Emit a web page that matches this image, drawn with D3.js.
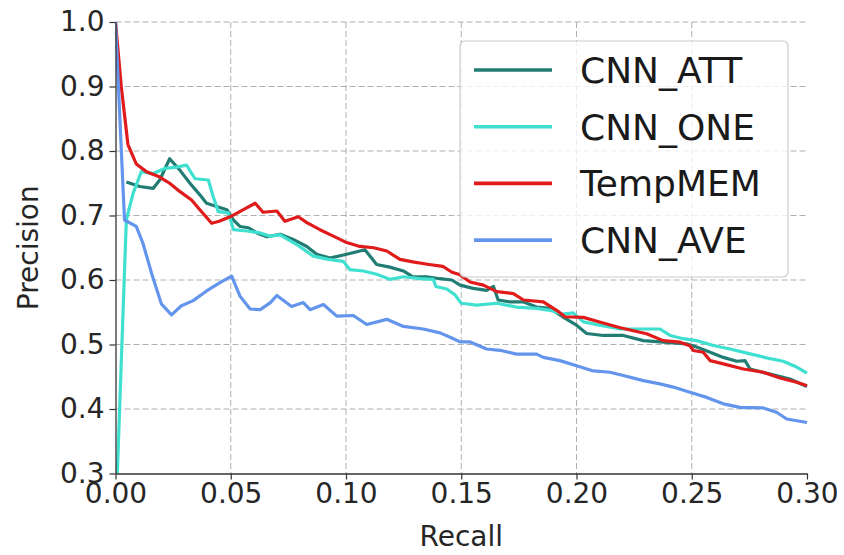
<!DOCTYPE html>
<html>
<head>
<meta charset="utf-8">
<script src="https://cdn.jsdelivr.net/npm/d3@7"></script>
<style>
  body { margin: 0; background: #fff; }
  svg { font-family: "DejaVu Sans", sans-serif; }
</style>
</head>
<body>
<svg id="chart" width="844" height="555"></svg>
<script>
// series names, colours in legend order
const seriesNames = ["CNN_ATT", "CNN_ONE", "TempMEM", "CNN_AVE"];
const seriesColors = ["#217d73", "#40e0d0", "#e01b1b", "#6495ed"];

const xTicks = [0, 0.05, 0.10, 0.15, 0.20, 0.25, 0.30];
const yTicks = [0.3, 0.4, 0.5, 0.6, 0.7, 0.8, 0.9, 1.0];

// [recall, precision]
const cnnAtt = [
  [0.0047, 0.752], [0.0105, 0.745], [0.0163, 0.742], [0.0192, 0.755], [0.0235, 0.788],
  [0.028, 0.770], [0.0323, 0.750], [0.0366, 0.732], [0.0395, 0.719], [0.0439, 0.714],
  [0.0483, 0.709], [0.0512, 0.693], [0.054, 0.683], [0.0577, 0.681], [0.0613, 0.673],
  [0.0657, 0.667], [0.0714, 0.671], [0.0771, 0.663], [0.083, 0.652], [0.0873, 0.640],
  [0.093, 0.634], [0.1003, 0.640], [0.1082, 0.647], [0.1133, 0.624], [0.119, 0.620],
  [0.1249, 0.614], [0.129, 0.605], [0.135, 0.605], [0.1408, 0.602], [0.1459, 0.600],
  [0.1495, 0.592], [0.1552, 0.587], [0.161, 0.584], [0.164, 0.590], [0.166, 0.569],
  [0.1711, 0.566], [0.177, 0.566], [0.1827, 0.558], [0.1885, 0.556], [0.194, 0.543],
  [0.200, 0.530], [0.2044, 0.517], [0.2116, 0.514], [0.2203, 0.514], [0.229, 0.506],
  [0.2376, 0.5036], [0.2478, 0.501], [0.2521, 0.496], [0.258, 0.488], [0.2637, 0.480],
  [0.2695, 0.474], [0.2731, 0.475], [0.2753, 0.462], [0.284, 0.454], [0.2926, 0.4466],
  [0.300, 0.435]
];
const cnnOne = [
  [0.0008, 0.300], [0.0047, 0.693], [0.0076, 0.734], [0.0112, 0.768], [0.0163, 0.765],
  [0.0214, 0.773], [0.0265, 0.775], [0.0308, 0.778], [0.0345, 0.757], [0.0403, 0.755],
  [0.0424, 0.729], [0.0446, 0.706], [0.049, 0.704], [0.0512, 0.678], [0.057, 0.676],
  [0.0628, 0.673], [0.067, 0.668], [0.0714, 0.670], [0.0786, 0.655], [0.0858, 0.637],
  [0.0923, 0.632], [0.0988, 0.629], [0.1017, 0.616], [0.1075, 0.614], [0.1133, 0.609],
  [0.119, 0.601], [0.1249, 0.605], [0.132, 0.602], [0.1379, 0.601], [0.139, 0.590],
  [0.1437, 0.586], [0.1473, 0.577], [0.150, 0.564], [0.1567, 0.561], [0.1654, 0.564],
  [0.174, 0.558], [0.1827, 0.556], [0.1885, 0.553], [0.194, 0.547], [0.1986, 0.549],
  [0.203, 0.535], [0.210, 0.530], [0.219, 0.524], [0.2304, 0.524], [0.2362, 0.524],
  [0.2406, 0.514], [0.2463, 0.509], [0.2521, 0.506], [0.2594, 0.4985], [0.2666, 0.493],
  [0.2753, 0.4855], [0.284, 0.478], [0.2897, 0.474], [0.2955, 0.465], [0.300, 0.4555]
];
const tempMem = [
  [0.000, 1.000], [0.0025, 0.900], [0.0054, 0.810], [0.009, 0.780], [0.0134, 0.768],
  [0.019, 0.760], [0.0235, 0.750], [0.028, 0.737], [0.033, 0.724], [0.0366, 0.709],
  [0.0417, 0.688], [0.045, 0.691], [0.0497, 0.698], [0.0555, 0.709], [0.0606, 0.719],
  [0.064, 0.705], [0.070, 0.707], [0.0735, 0.691], [0.0793, 0.698], [0.083, 0.689],
  [0.0887, 0.678], [0.0945, 0.668], [0.1003, 0.658], [0.106, 0.652], [0.112, 0.650],
  [0.1177, 0.645], [0.1234, 0.632], [0.129, 0.628], [0.136, 0.624], [0.142, 0.621],
  [0.146, 0.612], [0.1495, 0.608], [0.1538, 0.597], [0.1596, 0.592], [0.1654, 0.582],
  [0.1726, 0.579], [0.177, 0.569], [0.1856, 0.566], [0.1914, 0.553], [0.195, 0.543],
  [0.203, 0.542], [0.210, 0.535], [0.219, 0.526], [0.2304, 0.5166], [0.2376, 0.506],
  [0.2449, 0.5036], [0.2492, 0.498], [0.2507, 0.4907], [0.255, 0.488], [0.258, 0.475],
  [0.2637, 0.470], [0.2724, 0.462], [0.281, 0.457], [0.2883, 0.448], [0.2955, 0.4414],
  [0.300, 0.436]
];
const cnnAve = [
  [0.000, 1.000], [0.0039, 0.693], [0.009, 0.683], [0.0119, 0.657], [0.0156, 0.611],
  [0.0199, 0.563], [0.0243, 0.546], [0.0286, 0.560], [0.0337, 0.568], [0.0395, 0.583],
  [0.0453, 0.596], [0.0504, 0.606], [0.054, 0.575], [0.0584, 0.555], [0.0628, 0.554],
  [0.0672, 0.565], [0.070, 0.576], [0.0764, 0.559], [0.0815, 0.565], [0.0844, 0.554],
  [0.0902, 0.562], [0.096, 0.544], [0.1032, 0.545], [0.109, 0.531], [0.1177, 0.539],
  [0.1249, 0.528], [0.1335, 0.524], [0.1408, 0.518], [0.1459, 0.510], [0.1495, 0.504],
  [0.1538, 0.504], [0.161, 0.493], [0.1668, 0.491], [0.174, 0.485], [0.1827, 0.485],
  [0.1856, 0.480], [0.1928, 0.475], [0.200, 0.467], [0.2073, 0.459], [0.2145, 0.457],
  [0.2203, 0.452], [0.229, 0.444], [0.2362, 0.439], [0.242, 0.434], [0.2492, 0.426],
  [0.2565, 0.418], [0.2637, 0.408], [0.2709, 0.4026], [0.281, 0.4016], [0.2868, 0.395],
  [0.2912, 0.3845], [0.300, 0.379]
];
const seriesData = [cnnAtt, cnnOne, tempMem, cnnAve];

// plot area inside the 844x555 svg
const margin = { top: 22, right: 37, bottom: 81.5, left: 115.5 },
  width = 844 - margin.left - margin.right,
  height = 555 - margin.top - margin.bottom;

const svg = d3.select("#chart");
const g = svg.append("g")
  .attr("transform", "translate(" + margin.left + "," + margin.top + ")");

const x = d3.scaleLinear().domain([0, 0.30]).range([0, width]);
const y = d3.scaleLinear().domain([0.3, 1.0]).range([height, 0]);

// dashed grid
g.append("g")
  .selectAll("line")
  .data(xTicks.filter(d => d > 0 && d < 0.30))
  .join("line")
  .attr("x1", d => x(d)).attr("x2", d => x(d))
  .attr("y1", 0).attr("y2", height)
  .attr("stroke", "#b0b0b0").attr("stroke-width", 1)
  .attr("stroke-dasharray", "6,3");
g.append("g")
  .selectAll("line")
  .data(yTicks.filter(d => d > 0.3))
  .join("line")
  .attr("x1", 0).attr("x2", width)
  .attr("y1", d => y(d)).attr("y2", d => y(d))
  .attr("stroke", "#b0b0b0").attr("stroke-width", 1)
  .attr("stroke-dasharray", "6,3");

g.append("clipPath").attr("id", "clip")
  .append("rect").attr("x", 0).attr("y", -2).attr("width", width + 2).attr("height", height + 2);

const line = d3.line()
  .x(d => x(d[0]))
  .y(d => y(d[1]));

g.append("g").attr("clip-path", "url(#clip)")
  .selectAll("path")
  .data(seriesData)
  .join("path")
  .attr("fill", "none")
  .attr("stroke", (d, i) => seriesColors[i])
  .attr("stroke-width", 3.2)
  .attr("stroke-linejoin", "round")
  .attr("d", line);

// axes, only left and bottom spines
const xAxis = g.append("g")
  .attr("transform", `translate(0,${height})`)
  .call(d3.axisBottom(x).tickValues(xTicks).tickFormat(d3.format(".2f"))
    .tickSizeInner(6).tickSizeOuter(0).tickPadding(4));
const yAxis = g.append("g")
  .call(d3.axisLeft(y).tickValues(yTicks).tickFormat(d3.format(".1f"))
    .tickSizeInner(6).tickSizeOuter(0).tickPadding(5));

[xAxis, yAxis].forEach(a => {
  a.select(".domain").attr("stroke", "#333").attr("stroke-width", 1.3);
  a.selectAll(".tick line").attr("stroke", "#333").attr("stroke-width", 1.2);
  a.selectAll(".tick text")
    .attr("fill", "#262626")
    .style("font-family", "DejaVu Sans")
    .style("font-size", "28px");
});

svg.append("text")
  .attr("x", margin.left + width / 2)
  .attr("y", 546)
  .attr("text-anchor", "middle")
  .attr("fill", "#262626")
  .style("font-size", "28px")
  .text("Recall");

svg.append("text")
  .attr("transform", `translate(38,${margin.top + height / 2}) rotate(-90)`)
  .attr("text-anchor", "middle")
  .attr("fill", "#262626")
  .style("font-size", "28px")
  .text("Precision");

// legend
const legend = svg.append("g").attr("transform", "translate(460,41)");
legend.append("rect")
  .attr("width", 328).attr("height", 236)
  .attr("rx", 5)
  .attr("fill", "#fff").attr("fill-opacity", 0.8)
  .attr("stroke", "#cccccc").attr("stroke-width", 1.2);

const item = legend.selectAll(".item")
  .data(seriesNames)
  .join("g")
  .attr("class", "item")
  .attr("transform", (d, i) => `translate(0,${29 + i * 56.7})`);
item.append("line")
  .attr("x1", 14).attr("x2", 92)
  .attr("stroke", (d, i) => seriesColors[i])
  .attr("stroke-width", 3.6);
item.append("text")
  .attr("x", 120)
  .attr("dy", "0.36em")
  .attr("fill", "#1a1a1a")
  .style("font-size", "36px")
  .text(d => d);
</script>
</body>
</html>
